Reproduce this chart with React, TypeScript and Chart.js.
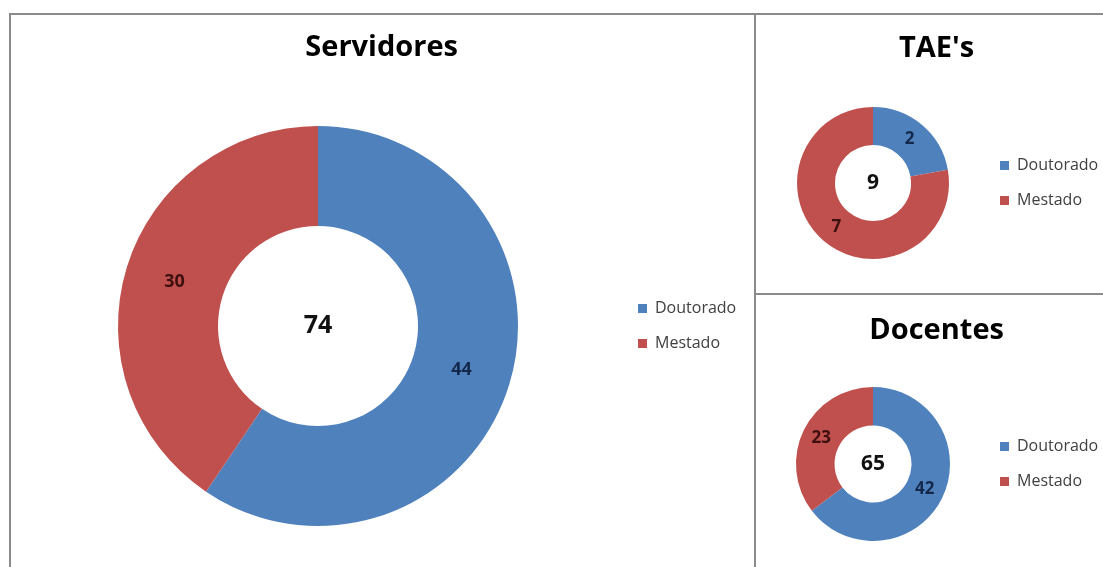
import React, { useEffect, useRef } from "react";
import { Chart, registerables } from "chart.js";

Chart.register(...registerables);

// ---- data ----
const categories = ["Doutorado", "Mestado"];
const servidoresValues = [44, 30];
const taesValues = [2, 7];
const docentesValues = [42, 23];
const chartTitles = ["Servidores", "TAE's", "Docentes"];

// ---- styles ----
const sliceColors = ["#4F81BD", "#C0504D"];
const labelColors = ["#13284a", "#3d0f0f"];
const FONT = '"Open Sans", "DejaVu Sans", sans-serif';

type Spec = {
  title: string;
  values: number[];
  left: number;
  top: number;
  width: number;
  height: number;
  cx: number;
  cy: number;
  r: number;
  titleY: number;
  legendX: number;
  totalSize: number;
  labelSize: number;
};

const donutLabels = {
  id: "donutLabels",
  afterDatasetsDraw(chart: any, _args: any, opts: any) {
    const { ctx } = chart;
    const meta = chart.getDatasetMeta(0);
    const data: number[] = chart.data.datasets[0].data;
    ctx.save();
    ctx.textAlign = "center";
    ctx.textBaseline = "middle";
    ctx.font = `bold ${opts.labelSize}px ${FONT}`;
    meta.data.forEach((arc: any, i: number) => {
      const p = arc.tooltipPosition(true);
      ctx.fillStyle = labelColors[i % labelColors.length];
      ctx.fillText(String(data[i]), p.x, p.y);
    });
    const total = data.reduce((a, b) => a + b, 0);
    const c = meta.data[0];
    ctx.font = `bold ${opts.totalSize}px ${FONT}`;
    ctx.fillStyle = "#111111";
    ctx.fillText(String(total), c.x, c.y);
    ctx.restore();
  },
};

function Donut({ spec }: { spec: Spec }) {
  const ref = useRef<HTMLCanvasElement | null>(null);
  useEffect(() => {
    const canvas = ref.current!;
    const ctx = canvas.getContext("2d")!;
    const legendFontSize = 16;
    const lp = 19;
    const boxW = 9;
    ctx.font = `normal ${legendFontSize}px ${FONT}`;
    const textW = Math.max(...categories.map((t) => ctx.measureText(t).width));
    const Lw = lp + boxW + legendFontSize / 2 + textW + 10;
    const cx = spec.cx - spec.left;
    const cy = spec.cy - spec.top;
    const legendLeft = spec.legendX - spec.left - lp;
    const pr = spec.width - (legendLeft + Lw);
    const pl = 2 * cx - legendLeft;
    const pb = spec.height - (cy + spec.r);
    const titleSize = 29;
    const lh = titleSize * 1.2;
    const tTop = spec.titleY - spec.top - lh / 2;
    const tBottom = cy - spec.r - tTop - lh;

    const chart = new Chart(canvas, {
      type: "doughnut",
      data: {
        labels: categories,
        datasets: [
          {
            data: spec.values,
            backgroundColor: sliceColors,
            borderWidth: 0,
            hoverOffset: 0,
          },
        ],
      },
      options: {
        responsive: false,
        animation: false,
        events: [],
        cutout: "50%",
        layout: { padding: { left: pl, right: pr, top: 0, bottom: pb } },
        plugins: {
          title: {
            display: true,
            text: spec.title,
            color: "#000000",
            font: { family: FONT, size: titleSize, weight: "bold", lineHeight: 1.2 },
            padding: { top: tTop, bottom: tBottom },
          },
          legend: {
            display: true,
            position: "right",
            align: "center",
            fullSize: false,
            labels: {
              boxWidth: boxW,
              boxHeight: boxW,
              padding: lp,
              color: "#404040",
              font: { family: FONT, size: legendFontSize },
            },
          },
          tooltip: { enabled: false },
          donutLabels: { labelSize: spec.labelSize, totalSize: spec.totalSize },
        } as any,
      },
      plugins: [donutLabels as any],
    });
    return () => chart.destroy();
  }, [spec]);
  return (
    <canvas
      ref={ref}
      width={spec.width}
      height={spec.height}
      style={{ position: "absolute", left: spec.left, top: spec.top, width: spec.width, height: spec.height }}
    />
  );
}

const specs: Spec[] = [
  {
    title: chartTitles[0], values: servidoresValues,
    left: 11, top: 15, width: 743, height: 552,
    cx: 318, cy: 326, r: 200, titleY: 48, legendX: 638, totalSize: 25, labelSize: 18,
  },
  {
    title: chartTitles[1], values: taesValues,
    left: 756, top: 15, width: 370, height: 278,
    cx: 873, cy: 183, r: 76, titleY: 49, legendX: 1000, totalSize: 21, labelSize: 17,
  },
  {
    title: chartTitles[2], values: docentesValues,
    left: 756, top: 295, width: 370, height: 272,
    cx: 873, cy: 464, r: 77, titleY: 331, legendX: 1000, totalSize: 21, labelSize: 17,
  },
];

const border = "2px solid #8a8a8a";

export default function App() {
  return (
    <div style={{ position: "fixed", left: 0, top: 0, width: 1103, height: 567, overflow: "hidden", background: "#ffffff" }}>
      <div style={{ position: "absolute", left: 9, top: 13, width: 747, height: 620, border, boxSizing: "border-box" }} />
      <div style={{ position: "absolute", left: 754, top: 13, width: 420, height: 282, border, boxSizing: "border-box" }} />
      <div style={{ position: "absolute", left: 754, top: 293, width: 420, height: 320, border, boxSizing: "border-box" }} />
      {specs.map((s) => (
        <Donut key={s.title} spec={s} />
      ))}
    </div>
  );
}
